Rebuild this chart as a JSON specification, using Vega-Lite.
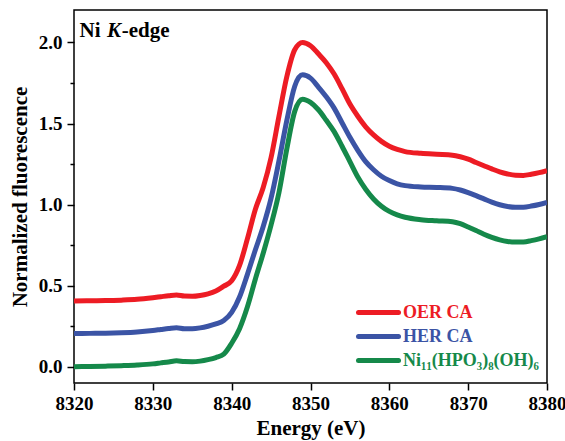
{
  "$schema": "https://vega.github.io/schema/vega-lite/v6.json",
  "width": 473,
  "height": 373,
  "autosize": {"type": "none"},
  "padding": {"left": 74, "top": 10, "right": 18, "bottom": 58},
  "background": "white",
  "config": {
    "view": {"stroke": "black", "strokeWidth": 1.5},
    "font": "'Times New Roman', 'Liberation Serif', serif"
  },
  "layer": [
    {
      "data": {
        "values": [
          {"E": 8320, "OER": 0.405, "HER": 0.205, "Ni": 0.000},
          {"E": 8322, "OER": 0.407, "HER": 0.206, "Ni": 0.002},
          {"E": 8324, "OER": 0.408, "HER": 0.207, "Ni": 0.004},
          {"E": 8326, "OER": 0.411, "HER": 0.210, "Ni": 0.007},
          {"E": 8328, "OER": 0.416, "HER": 0.215, "Ni": 0.011},
          {"E": 8330, "OER": 0.426, "HER": 0.224, "Ni": 0.018},
          {"E": 8331, "OER": 0.432, "HER": 0.230, "Ni": 0.024},
          {"E": 8332, "OER": 0.438, "HER": 0.236, "Ni": 0.030},
          {"E": 8333, "OER": 0.443, "HER": 0.241, "Ni": 0.037},
          {"E": 8334, "OER": 0.436, "HER": 0.235, "Ni": 0.032},
          {"E": 8335, "OER": 0.435, "HER": 0.235, "Ni": 0.031},
          {"E": 8336, "OER": 0.440, "HER": 0.240, "Ni": 0.035},
          {"E": 8337, "OER": 0.450, "HER": 0.250, "Ni": 0.044},
          {"E": 8338, "OER": 0.467, "HER": 0.264, "Ni": 0.057},
          {"E": 8339, "OER": 0.497, "HER": 0.285, "Ni": 0.078},
          {"E": 8340, "OER": 0.530, "HER": 0.335, "Ni": 0.145},
          {"E": 8341, "OER": 0.625, "HER": 0.430, "Ni": 0.235},
          {"E": 8342, "OER": 0.790, "HER": 0.570, "Ni": 0.370},
          {"E": 8343, "OER": 0.970, "HER": 0.720, "Ni": 0.540},
          {"E": 8344, "OER": 1.105, "HER": 0.865, "Ni": 0.700},
          {"E": 8345, "OER": 1.290, "HER": 1.040, "Ni": 0.875},
          {"E": 8346, "OER": 1.545, "HER": 1.270, "Ni": 1.075},
          {"E": 8347, "OER": 1.790, "HER": 1.520, "Ni": 1.345},
          {"E": 8348, "OER": 1.955, "HER": 1.730, "Ni": 1.575},
          {"E": 8349, "OER": 2.000, "HER": 1.800, "Ni": 1.650},
          {"E": 8350, "OER": 1.980, "HER": 1.780, "Ni": 1.630},
          {"E": 8351, "OER": 1.930, "HER": 1.725, "Ni": 1.585},
          {"E": 8352, "OER": 1.875, "HER": 1.665, "Ni": 1.520},
          {"E": 8353, "OER": 1.805, "HER": 1.595, "Ni": 1.450},
          {"E": 8354, "OER": 1.715, "HER": 1.505, "Ni": 1.360},
          {"E": 8355, "OER": 1.620, "HER": 1.415, "Ni": 1.265},
          {"E": 8356, "OER": 1.545, "HER": 1.335, "Ni": 1.170},
          {"E": 8357, "OER": 1.480, "HER": 1.265, "Ni": 1.095},
          {"E": 8358, "OER": 1.430, "HER": 1.215, "Ni": 1.035},
          {"E": 8359, "OER": 1.390, "HER": 1.175, "Ni": 0.990},
          {"E": 8360, "OER": 1.360, "HER": 1.148, "Ni": 0.958},
          {"E": 8361, "OER": 1.340, "HER": 1.128, "Ni": 0.937},
          {"E": 8362, "OER": 1.327, "HER": 1.117, "Ni": 0.922},
          {"E": 8364, "OER": 1.316, "HER": 1.109, "Ni": 0.907},
          {"E": 8366, "OER": 1.310, "HER": 1.106, "Ni": 0.900},
          {"E": 8368, "OER": 1.305, "HER": 1.100, "Ni": 0.894},
          {"E": 8369, "OER": 1.295, "HER": 1.090, "Ni": 0.882},
          {"E": 8370, "OER": 1.280, "HER": 1.074, "Ni": 0.862},
          {"E": 8371, "OER": 1.260, "HER": 1.055, "Ni": 0.840},
          {"E": 8372, "OER": 1.240, "HER": 1.035, "Ni": 0.817},
          {"E": 8373, "OER": 1.220, "HER": 1.015, "Ni": 0.798},
          {"E": 8374, "OER": 1.202, "HER": 0.999, "Ni": 0.783},
          {"E": 8375, "OER": 1.189, "HER": 0.988, "Ni": 0.773},
          {"E": 8376, "OER": 1.181, "HER": 0.983, "Ni": 0.769},
          {"E": 8377, "OER": 1.180, "HER": 0.984, "Ni": 0.770},
          {"E": 8378, "OER": 1.187, "HER": 0.991, "Ni": 0.778},
          {"E": 8379, "OER": 1.197, "HER": 1.001, "Ni": 0.789},
          {"E": 8380, "OER": 1.210, "HER": 1.014, "Ni": 0.803}
        ]
      },
      "transform": [{"fold": ["OER", "HER", "Ni"], "as": ["series", "v"]}],
      "mark": {"type": "line", "strokeWidth": 5, "interpolate": "monotone", "clip": true},
      "encoding": {
        "x": {
          "field": "E",
          "type": "quantitative",
          "scale": {"domain": [8320, 8380], "nice": false},
          "axis": {
            "title": "Energy (eV)",
            "values": [8320, 8325, 8330, 8335, 8340, 8345, 8350, 8355, 8360, 8365, 8370, 8375, 8380],
            "labelExpr": "datum.value % 10 === 0 ? datum.value : ''",
            "format": "d",
            "grid": false,
            "domain": false,
            "tickColor": "black",
            "tickWidth": 1.5,
            "tickSize": {"expr": "datum.value % 10 === 0 ? 7 : 4"},
            "labelFontWeight": "bold",
            "labelFontSize": 19,
            "labelColor": "black",
            "labelPadding": 4,
            "labelFlush": false,
            "labelOverlap": false,
            "titleFontWeight": "bold",
            "titleFontSize": 21,
            "titleColor": "black",
            "titlePadding": 4
          }
        },
        "y": {
          "field": "v",
          "type": "quantitative",
          "scale": {"domain": [-0.1, 2.2], "nice": false, "zero": false},
          "axis": {
            "title": "Normalized fluorescence",
            "values": [0, 0.25, 0.5, 0.75, 1, 1.25, 1.5, 1.75, 2],
            "labelExpr": "(datum.value * 2) % 1 === 0 ? format(datum.value, '.1f') : ''",
            "grid": false,
            "domain": false,
            "tickColor": "black",
            "tickWidth": 1.5,
            "tickSize": {"expr": "(datum.value * 2) % 1 === 0 ? 7 : 4"},
            "labelFontWeight": "bold",
            "labelFontSize": 19,
            "labelColor": "black",
            "labelPadding": 5,
            "labelFlush": false,
            "labelOverlap": false,
            "titleFontWeight": "bold",
            "titleFontSize": 21,
            "titleColor": "black",
            "titlePadding": 8
          }
        },
        "color": {
          "field": "series",
          "type": "nominal",
          "sort": ["OER", "HER", "Ni"],
          "scale": {"domain": ["OER", "HER", "Ni"], "range": ["#ED1C24", "#3B54A5", "#15894A"]},
          "legend": {
            "orient": "none",
            "legendX": 292,
            "legendY": 290,
            "title": null,
            "symbolType": "M-2,0H2",
            "symbolSize": 400,
            "symbolStrokeWidth": 5,
            "labelFontWeight": "bold",
            "labelFontSize": 18,
            "labelOffset": 12,
            "labelLimit": 300,
            "rowPadding": 1,
            "labelExpr": "datum.value === 'OER' ? 'OER CA' : datum.value === 'HER' ? ' HER CA' : 'Ni₁₁(HPO₃)₈(OH)₆'",
            "encode": {
              "labels": {"update": {"fill": {"scale": "color", "field": "value"}}},
              "symbols": {"update": {"strokeCap": {"value": "round"}}}
            }
          }
        }
      }
    },
    {
      "data": {"values": [{}]},
      "mark": {"type": "text", "align": "left", "baseline": "alphabetic", "fontSize": 21, "fontWeight": "bold", "color": "black", "text": "Ni"},
      "encoding": {"x": {"datum": 8320.7}, "y": {"datum": 2.035}}
    },
    {
      "data": {"values": [{}]},
      "mark": {"type": "text", "align": "left", "baseline": "alphabetic", "fontSize": 21, "fontWeight": "bold", "fontStyle": "italic", "color": "black", "text": "K"},
      "encoding": {"x": {"datum": 8324.2}, "y": {"datum": 2.035}}
    },
    {
      "data": {"values": [{}]},
      "mark": {"type": "text", "align": "left", "baseline": "alphabetic", "fontSize": 21, "fontWeight": "bold", "color": "black", "text": "-edge"},
      "encoding": {"x": {"datum": 8326.05}, "y": {"datum": 2.035}}
    }
  ]
}
